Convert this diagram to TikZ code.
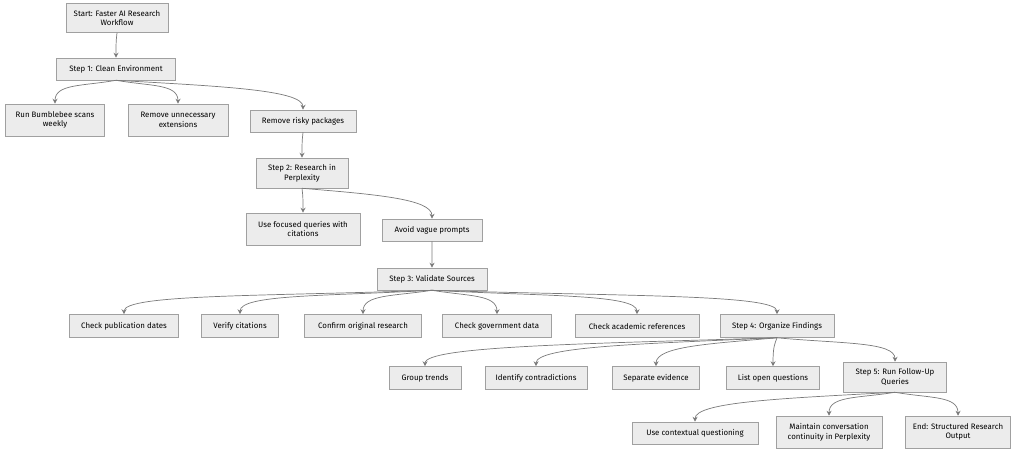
\documentclass[tikz,border=0pt]{standalone}
\usepackage{fontspec}
\setmainfont{Fira Sans}
\usetikzlibrary{arrows.meta,calc}
\newdimen\px \px=0.025cm
\definecolor{boxfill}{HTML}{ECECEC}
\definecolor{boxline}{HTML}{A0A0A0}
\definecolor{edgeline}{HTML}{7A7A7A}
\tikzset{
  box/.style={draw=boxline, fill=boxfill, line width=0.4pt, align=center,
    font=\fontsize{5.6}{6.8}\selectfont, inner sep=0pt},
  edge/.style={draw=edgeline, line width=0.5pt, -{Stealth[length=3.5pt,width=3.5pt]}}
}
\newcommand{\flow}[2]{\draw[edge] (#1.south) .. controls ($(#1.south)!.55!(#1.south -| #2.north)+(0,6)$)
  and ($(#2.north)+(0,-20)$) .. (#2.north);}
\begin{document}
\begin{tikzpicture}[x=\px, y=-\px]
\useasboundingbox (0,0) rectangle (1024,452);
%Ebene 0-2
\node[box, minimum width=102\px, minimum height=29\px] (start) at (117,18) {Start: Faster AI Research\\Workflow};
\node[box, minimum width=119\px, minimum height=22\px] (s1) at (116,69) {Step 1: Clean Environment};
\node[box, minimum width=99\px, minimum height=32\px] (bee) at (55,120) {Run Bumblebee scans\\weekly};
\node[box, minimum width=100\px, minimum height=32\px] (ext) at (178,120) {Remove unnecessary\\extensions};
\node[box, minimum width=106\px, minimum height=22\px] (pkg) at (303,121) {Remove risky packages};
\node[box, minimum width=92\px, minimum height=30\px] (s2) at (302,173) {Step 2: Research in\\Perplexity};
\node[box, minimum width=114\px, minimum height=32\px] (foc) at (303,229) {Use focused queries with\\citations};
\node[box, minimum width=100\px, minimum height=22\px] (vag) at (432,230) {Avoid vague prompts};
\node[box, minimum width=110\px, minimum height=22\px] (s3) at (432,279) {Step 3: Validate Sources};
%Ebene 3
\node[box, minimum width=109\px, minimum height=23\px] (pub) at (124,326) {Check publication dates};
\node[box, minimum width=77\px, minimum height=23\px] (ver) at (240,326) {Verify citations};
\node[box, minimum width=117\px, minimum height=23\px] (orig) at (363,326) {Confirm original research};
\node[box, minimum width=109\px, minimum height=23\px] (gov) at (497,326) {Check government data};
\node[box, minimum width=124\px, minimum height=23\px] (acad) at (637,326) {Check academic references};
\node[box, minimum width=114\px, minimum height=23\px] (s4) at (777,326) {Step 4: Organize Findings};
%Ebene 4
\node[box, minimum width=72\px, minimum height=23\px] (grp) at (425,378) {Group trends};
\node[box, minimum width=102\px, minimum height=23\px] (con) at (536,378) {Identify contradictions};
\node[box, minimum width=87\px, minimum height=23\px] (sep) at (656,378) {Separate evidence};
\node[box, minimum width=93\px, minimum height=23\px] (open) at (773,378) {List open questions};
\node[box, minimum width=103\px, minimum height=30\px] (s5) at (895,377) {Step 5: Run Follow-Up\\Queries};
%Ebene 5
\node[box, minimum width=126\px, minimum height=22\px] (ctx) at (695,433) {Use contextual questioning};
\node[box, minimum width=106\px, minimum height=32\px] (cont) at (829,432) {Maintain conversation\\continuity in Perplexity};
\node[box, minimum width=105\px, minimum height=32\px] (end) at (958,432) {End: Structured Research\\Output};
%Verbindungen
\foreach \a/\b in {start/s1, s1/bee, s1/ext, s1/pkg, pkg/s2, s2/foc, s2/vag, vag/s3,
  s3/pub, s3/ver, s3/orig, s3/gov, s3/acad, s3/s4,
  s4/grp, s4/con, s4/sep, s4/open, s4/s5, s5/ctx, s5/cont, s5/end}
  {\flow{\a}{\b}}
\end{tikzpicture}
\end{document}
